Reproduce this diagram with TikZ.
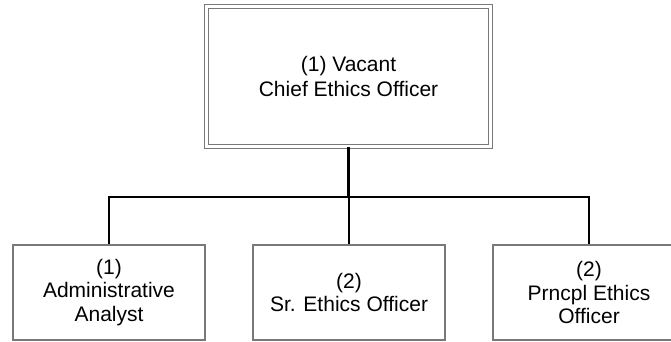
\documentclass[tikz,border=0pt]{standalone}
\usepackage{fontspec}
\setmainfont{Liberation Sans}
\begin{document}
\begin{tikzpicture}[x=1pt,y=1pt,
  topbox/.style={draw=gray!95!black, line width=1pt, double=white, double distance=3pt,
    minimum width=284.4pt, minimum height=140.3pt, inner sep=0pt, align=center,
    font=\fontsize{21}{25}\selectfont},
  subbox/.style={draw=gray!95!black, line width=1.2pt, minimum width=192pt, minimum height=95pt,
    inner sep=0pt, align=center, font=\fontsize{21}{23.5}\selectfont},
  conn/.style={draw=black, line width=2.2pt}]
\useasboundingbox (0,0) rectangle (671,-341);
\clip (0,0) rectangle (671,-341);
\node[topbox] (top) at (348.5,-76.8) {(1) Vacant\\Chief Ethics Officer};
\node[subbox] (a) at (109,-292.5) {(1)\\Administrative\\Analyst};
\node[subbox] (b) at (349,-292.5) {(2)\\Sr. Ethics Officer};
\node[subbox] (c) at (589,-292.5) {(2)\\Prncpl Ethics\\Officer};
\coordinate (bus) at (349,-197);
\draw[conn] (top.south) -- (top.south |- bus);
\draw[conn] (a.north) -- (a.north |- bus) -- (c.north |- bus) -- (c.north);
\draw[conn] (b.north) -- (b.north |- bus);
\end{tikzpicture}
\end{document}
